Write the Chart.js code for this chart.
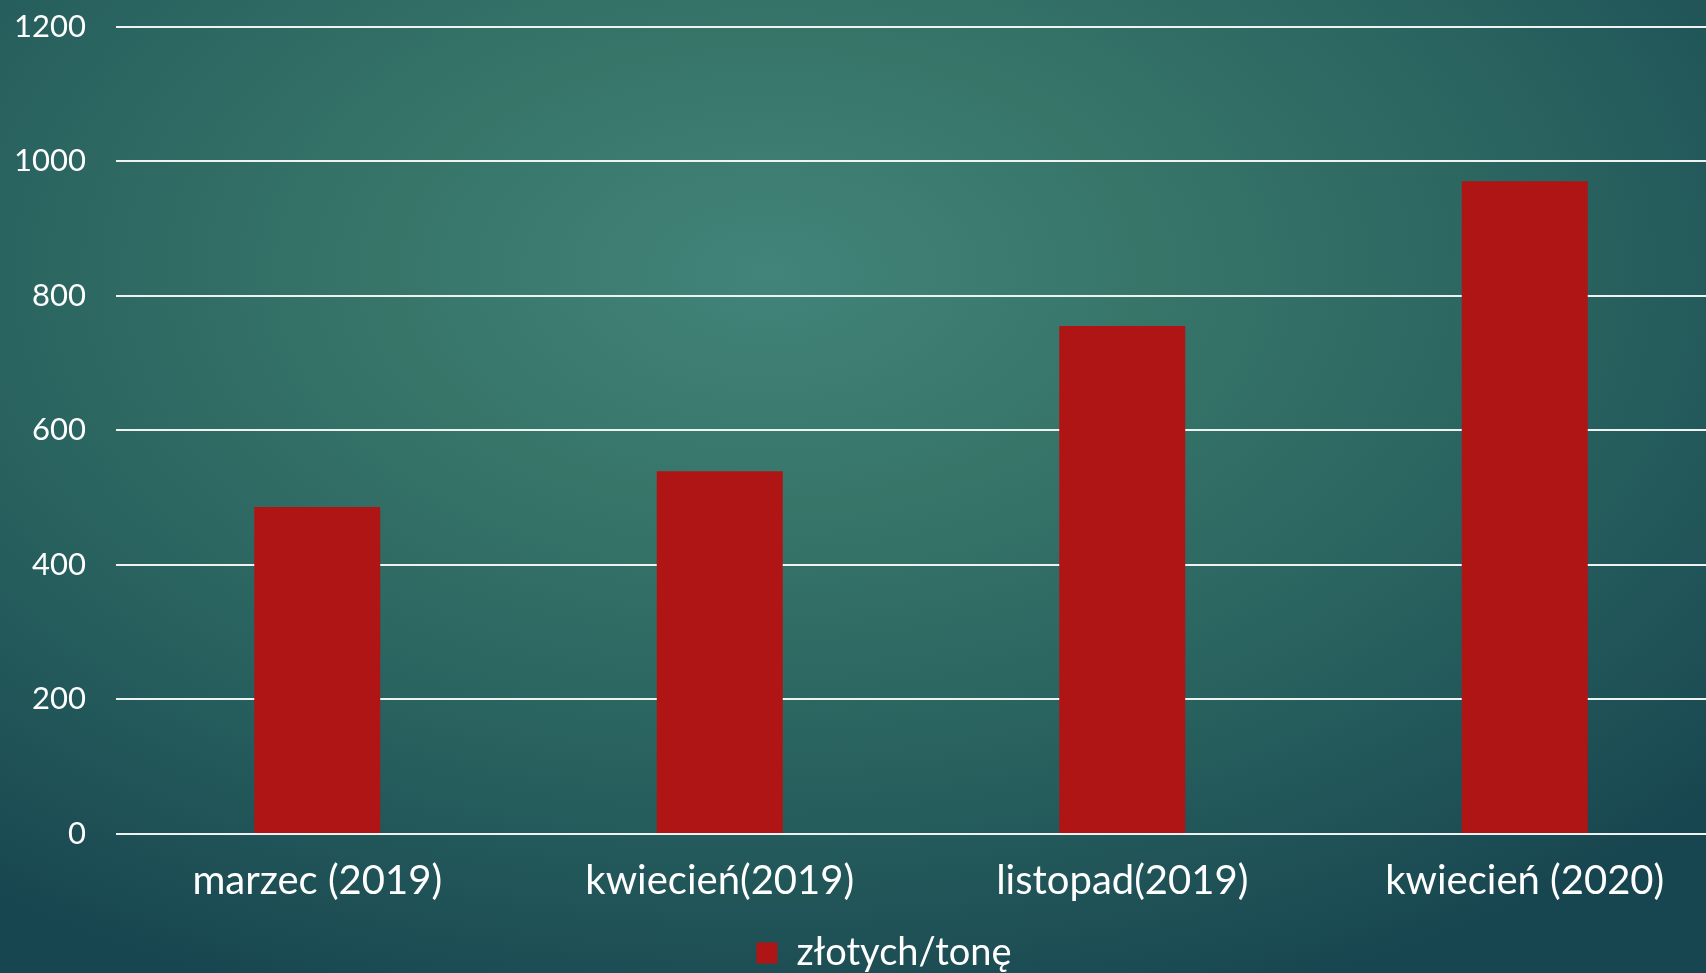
<!DOCTYPE html>
<html>
<head>
<meta charset="utf-8">
<script src="https://cdn.jsdelivr.net/npm/chart.js@4.4.1/dist/chart.umd.min.js"></script>
<style>
  html, body { margin: 0; padding: 0; width: 1706px; height: 973px; overflow: hidden; }
  body {
    background:
      radial-gradient(ellipse 75% 80% at 45% 28%, #42847a 0%, #377569 30%, #2a6460 60%, #1f5257 85%, #184650 100%);
  }
  #wrap { position: absolute; left: 0; top: -22px; }
</style>
</head>
<body>
<div id="wrap"><canvas id="c" width="1768" height="1004"></canvas></div>
<script>
const categories = ["marzec (2019)", "kwiecień(2019)", "listopad(2019)", "kwiecień (2020)"];
const seriesName = "złotych/tonę";
const values = [486, 539, 755, 970];
const yTicks = [0, 200, 400, 600, 800, 1000, 1200];

const FONT = "Lato, 'Open Sans', sans-serif";

const legendShift = {
  id: 'legendShift',
  afterLayout(chart) {
    if (chart.legend) { chart.legend.left += 42; }
  }
};

new Chart(document.getElementById('c'), {
  type: 'bar',
  data: {
    labels: categories,
    datasets: [{
      label: seriesName,
      data: values,
      backgroundColor: '#B01515',
      borderWidth: 0,
      barPercentage: 0.313,
      categoryPercentage: 1.0
    }]
  },
  plugins: [legendShift],
  options: {
    responsive: false,
    animation: false,
    devicePixelRatio: 1,
    layout: { padding: { top: 4, right: 42, left: 0, bottom: 0 } },
    plugins: {
      legend: {
        display: true,
        position: 'bottom',
        labels: {
          color: '#ffffff',
          font: { family: FONT, size: 38 },
          boxWidth: 21,
          boxHeight: 21,
          padding: 6
        }
      },
      tooltip: { enabled: false }
    },
    scales: {
      x: {
        grid: { display: false, drawTicks: false },
        border: { display: false },
        ticks: {
          color: '#ffffff',
          font: { family: FONT, size: 40 },
          padding: 23,
          maxRotation: 0
        }
      },
      y: {
        min: 0,
        max: 1200,
        afterFit: (s) => { s.width = 116; },
        afterBuildTicks: (s) => { s.ticks = yTicks.map(v => ({ value: v })); },
        grid: { color: '#eef3f2', lineWidth: 2, drawTicks: false },
        border: { display: false },
        ticks: {
          color: '#ffffff',
          font: { family: FONT, size: 31 },
          padding: 30,
          callback: (v) => String(v)
        }
      }
    }
  }
});
</script>
</body>
</html>
